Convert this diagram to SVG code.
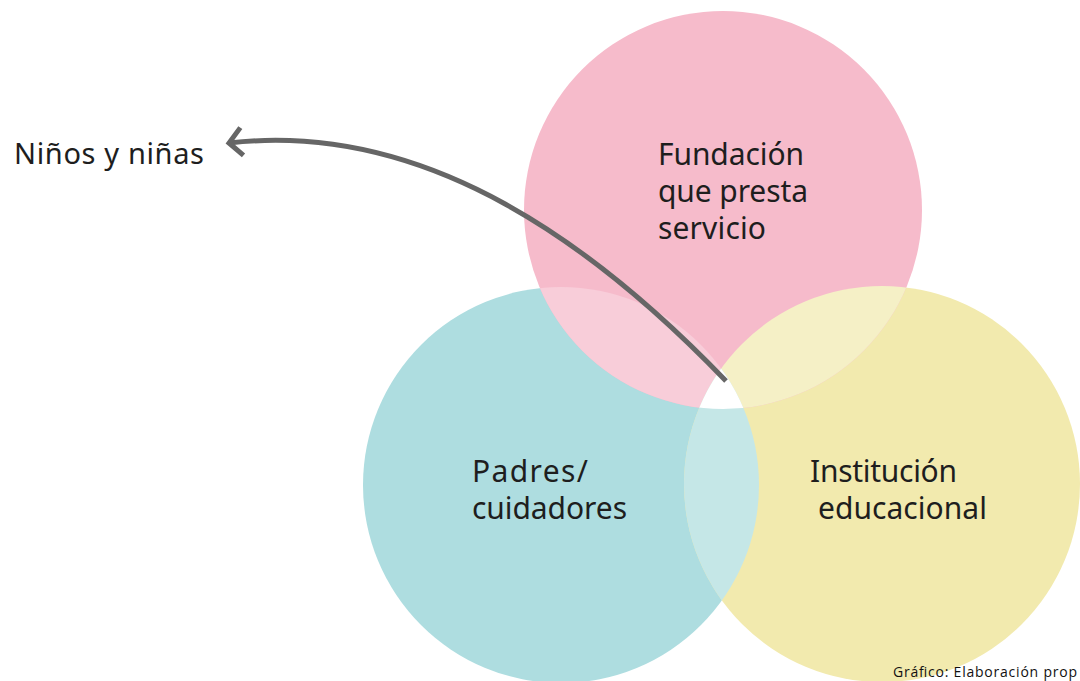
<svg xmlns="http://www.w3.org/2000/svg" width="1080" height="681" viewBox="0 0 1080 681">
  <style>
    .lbl { font-family: "Noto Sans", "Open Sans", sans-serif; font-size: 30px; fill: #1e1e1e; }
    .note { font-family: "Open Sans", "Noto Sans", sans-serif; font-size: 14px; fill: #111; }
    .conn { fill: none; stroke: #666666; stroke-width: 5; }
  </style>
  <defs>
    <clipPath id="cTeal"><circle cx="561" cy="485" r="198"/></clipPath>
    <clipPath id="cYellow"><circle cx="882" cy="484" r="198"/></clipPath>
    <marker id="chev" markerUnits="userSpaceOnUse" markerWidth="40" markerHeight="40" viewBox="-20 -20 40 40" refX="0" refY="0" orient="auto" overflow="visible">
      <path d="M-13,-14 L0,0 L-13,14" fill="none" stroke="#666666" stroke-width="5"/>
    </marker>
  </defs>
  <rect width="1080" height="681" fill="#ffffff"/>

  <g id="node-padres">
    <circle cx="561" cy="485" r="198" fill="#AEDDE0"/>
  </g>
  <g id="node-institucion">
    <circle cx="882" cy="484" r="198" fill="#F2EAAE"/>
  </g>
  <g id="node-fundacion">
    <circle cx="723" cy="210" r="199" fill="#F6BBCB"/>
  </g>
  <g id="overlaps">
    <circle cx="723" cy="210" r="199" fill="#F8CDD9" clip-path="url(#cTeal)"/>
    <circle cx="723" cy="210" r="199" fill="#F5F0C6" clip-path="url(#cYellow)"/>
    <circle cx="561" cy="485" r="198" fill="#C5E7E7" clip-path="url(#cYellow)"/>
    <g clip-path="url(#cTeal)">
      <circle cx="723" cy="210" r="199" fill="#ffffff" clip-path="url(#cYellow)"/>
    </g>
  </g>

  <g id="labels">
    <text class="lbl" x="658" y="165" textLength="146">Fundación</text>
    <text class="lbl" x="658" y="202" textLength="150">que presta</text>
    <text class="lbl" x="658" y="239" textLength="108">servicio</text>
    <text class="lbl" x="472" y="482" textLength="116">Padres/</text>
    <text class="lbl" x="472" y="519" textLength="155">cuidadores</text>
    <text class="lbl" x="810" y="482" textLength="147">Institución</text>
    <text class="lbl" x="818" y="519" textLength="169">educacional</text>
  </g>

  <g id="node-ninos">
    <text class="lbl" x="14" y="164" textLength="190" style="font-size:29px">Niños y niñas</text>
  </g>

  <g id="connectors">
    <path class="conn" d="M726,381 C600,250 430,120 229,143" marker-end="url(#chev)"/>
  </g>

  <g id="footer">
    <text class="note" x="893" y="677" textLength="184">Gráfico: Elaboración prop</text>
  </g>
</svg>
